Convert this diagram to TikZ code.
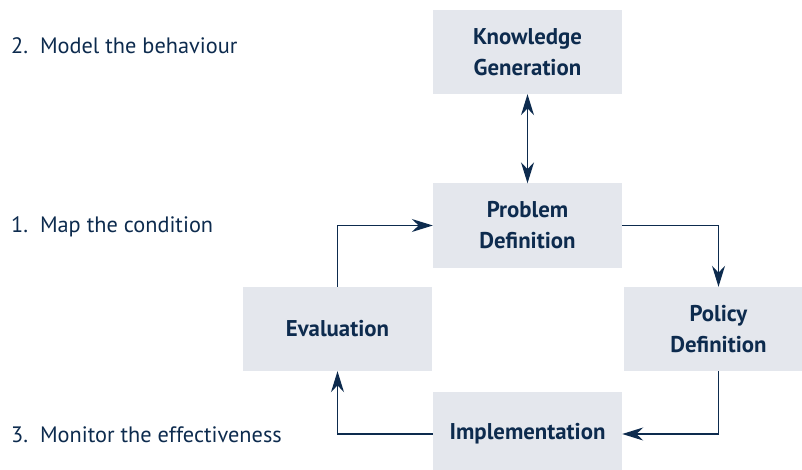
\documentclass[tikz,border=0pt]{standalone}
\usepackage{fontspec}
\setmainfont{PT Sans}
\usetikzlibrary{arrows.meta}

\definecolor{navy}{HTML}{0D2B4E}
\definecolor{boxgrey}{HTML}{E4E7ED}

\tikzset{
  stage/.style={fill=boxgrey, minimum width=189pt, minimum height=84pt,
    align=center, text=navy, font=\fontsize{22.8}{31}\selectfont\bfseries},
  flow/.style={draw=navy, line width=1.4pt, -{Stealth[length=21pt,width=13pt]}},
  aim/.style={anchor=base west, text=navy, inner sep=0pt,
    font=\fontsize{22.3}{25}\selectfont}
}

\begin{document}
\begin{tikzpicture}[x=1pt,y=-1pt]

\useasboundingbox (0,0) rectangle (802,470);
\clip (0,0) rectangle (802,470);

%% Stages of the cycle
\node [stage] (know) at (527.5,52) {Knowledge\\Generation};
\node [stage] (prob) at (527.5,225.5) {Problem\\Definition};
\node [stage] (eval) at (337.5,329) {Evaluation};
\node [stage] (policy) at (718.5,329) {Policy\\Definition};
\node [stage] (impl) at (527.5,434) {Implementation};

%% Steps on the left
\node [aim] (model) at (11,54) {2.\ \ Model the behaviour};
\node [aim] (map) at (11,233) {1.\ \ Map the condition};
\node [aim] (monitor) at (11,442) {3.\ \ Monitor the effectiveness};

%% Links
\draw [flow, {Stealth[length=21pt,width=13pt]}-{Stealth[length=21pt,width=13pt]}] (know.south) -- (prob.north);
\draw [flow] (eval.north) |- (prob.west);
\draw [flow] (prob.east) -| (policy.north);
\draw [flow] (policy.south) |- (impl.east);
\draw [flow] (impl.west) -| (eval.south);

\end{tikzpicture}
\end{document}
